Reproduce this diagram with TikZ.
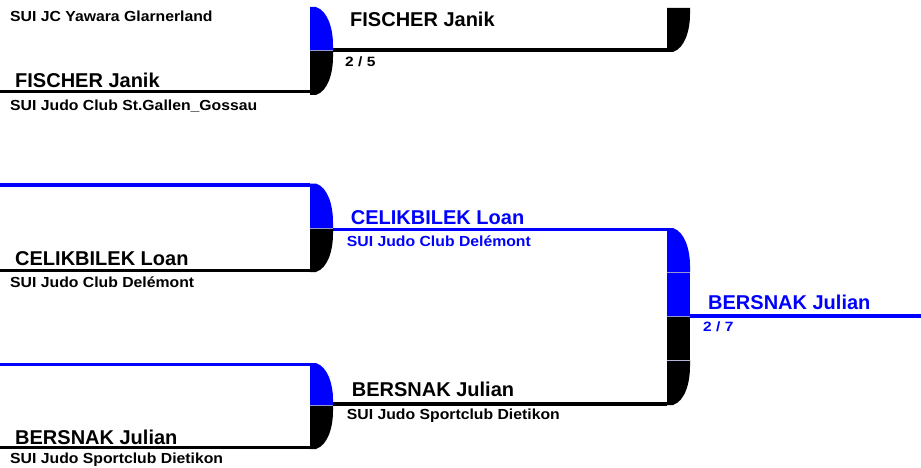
\documentclass[tikz,border=0pt]{standalone}
\usepackage{fontspec}
\setmainfont{Liberation Sans}
\newfontfamily\clubfont[FakeStretch=1.08]{Liberation Sans}
\newfontfamily\scorefont[FakeStretch=1.15]{Liberation Sans}
\definecolor{pblue}{RGB}{0,0,255}
\definecolor{sepc}{RGB}{150,150,210}
\tikzset{
  namet/.style={anchor=base west,inner sep=0pt,font=\bfseries\fontsize{20}{24}\selectfont},
  clubt/.style={anchor=base west,inner sep=0pt,font=\clubfont\bfseries\fontsize{14.6}{18}\selectfont},
  scoret/.style={anchor=base west,inner sep=0pt,font=\scorefont\bfseries\fontsize{13.5}{15}\selectfont},
  bline/.style={line width=3.5pt},
  sepline/.style={sepc,line width=1pt}
}
% piece rounded top-right: #1 x0, #2 top, #3 mid, #4 colour
\newcommand{\toppiece}[4]{%
  \fill[#4] (#1,#2) -- (#1+6,#2) .. controls (#1+18,#2+4) and (#1+23,#2+22) .. (#1+23,#3-6) -- (#1+23,#3) -- (#1,#3) -- cycle;}
% piece rounded bottom-right: #1 x0, #2 mid, #3 bottom, #4 colour
\newcommand{\botpiece}[4]{%
  \fill[#4] (#1,#2) -- (#1+23,#2) -- (#1+23,#2+6) .. controls (#1+23,#3-22) and (#1+18,#3-4) .. (#1+6,#3) -- (#1,#3) -- cycle;}
\begin{document}
\begin{tikzpicture}[x=1pt,y=-1pt]
\useasboundingbox (0,0) rectangle (921,468);
% ---------- bracket 1
\toppiece{310}{7}{51}{pblue}
\botpiece{310}{51}{95}{black}
\draw[sepline] (310,51) -- (333,51);
\draw[bline] (0,91.5) -- (310,91.5);
\draw[bline] (333,50) -- (667,50);
% top right black piece
\fill[black] (667,8) -- (690,8) -- (690,14) .. controls (690,30) and (685,48) .. (673,52) -- (667,52) -- cycle;
% ---------- bracket 2
\draw[bline,pblue] (0,185) -- (310,185);
\toppiece{310}{183.5}{228}{pblue}
\botpiece{310}{228}{272}{black}
\draw[sepline] (310,228) -- (333,228);
\draw[bline] (0,270.5) -- (310,270.5);
\draw[bline,pblue] (333,229.5) -- (667,229.5);
% ---------- bracket 3
\draw[bline,pblue] (0,364.5) -- (310,364.5);
\toppiece{310}{363}{405}{pblue}
\botpiece{310}{405}{449}{black}
\draw[sepline] (310,405) -- (333,405);
\draw[bline] (0,447.5) -- (310,447.5);
\draw[bline] (333,404) -- (667,404);
% ---------- final bracket
\toppiece{667}{228}{272}{pblue}
\fill[pblue] (667,272) rectangle (690,316);
\fill[black] (667,316) rectangle (690,360);
\botpiece{667}{360}{405}{black}
\draw[sepline] (667,272) -- (690,272);
\draw[sepline] (667,316) -- (690,316);
\draw[sepc!70!white,line width=1pt] (667,360) -- (690,360);
\draw[bline,pblue] (690,316) -- (921,316);
% ---------- texts
\node[clubt] (c1) at (10,21.7) {SUI JC Yawara Glarnerland};
\node[namet] (n2) at (15,87.3) {FISCHER Janik};
\node[clubt] (c2) at (10,110.7) {SUI Judo Club St.Gallen\_Gossau};
\node[namet] (w1) at (350,26.7) {FISCHER Janik};
\node[scoret] (s1) at (345,66.7) {2 / 5};
\node[namet] (n3) at (15,265) {CELIKBILEK Loan};
\node[clubt] (c3) at (10,287.7) {SUI Judo Club Delémont};
\node[namet,text=pblue] (w2) at (350.7,224) {CELIKBILEK Loan};
\node[clubt,text=pblue] (wc2) at (346.7,246.7) {SUI Judo Club Delémont};
\node[namet] (w3) at (351.7,396.7) {BERSNAK Julian};
\node[clubt] (wc3) at (346.7,419.5) {SUI Judo Sportclub Dietikon};
\node[namet] (n4) at (15,444) {BERSNAK Julian};
\node[clubt] (c4) at (10,463.3) {SUI Judo Sportclub Dietikon};
\node[namet,text=pblue] (fw) at (708,309.3) {BERSNAK Julian};
\node[scoret,text=pblue] (fs) at (703,331) {2 / 7};
\end{tikzpicture}
\end{document}
